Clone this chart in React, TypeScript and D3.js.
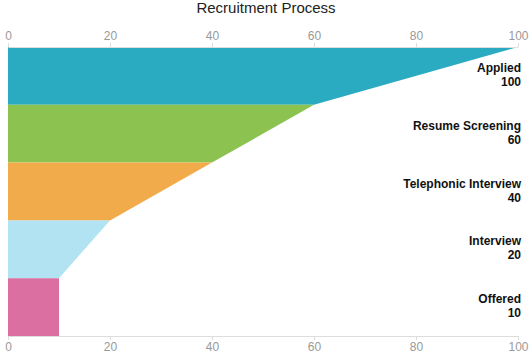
import { useEffect, useRef } from 'react';
import * as d3 from 'd3';

const stages = ['Applied', 'Resume Screening', 'Telephonic Interview', 'Interview', 'Offered'];
const counts = [100, 60, 40, 20, 10];
const colors = ['#2aabc2', '#8bc250', '#f2ab4b', '#b1e3f3', '#dc6fa1'];
const ticks = [0, 20, 40, 60, 80, 100];

const width = 532;
const height = 354;
const margin = { top: 47, right: 14, bottom: 18, left: 8 };

export default function App() {
  const svgRef = useRef<SVGSVGElement>(null);

  useEffect(() => {
    if (!svgRef.current) return;
    const svg = d3.select(svgRef.current);
    svg.selectAll('*').remove();

    const chartWidth = width - margin.left - margin.right;
    const chartHeight = height - margin.top - margin.bottom;

    const x = d3.scaleLinear().domain([0, 100]).range([0, chartWidth]);
    const y = d3.scaleBand().domain(stages).range([0, chartHeight]).padding(0);

    // Title
    svg
      .append('text')
      .attr('x', width / 2)
      .attr('y', 13)
      .attr('text-anchor', 'middle')
      .attr('font-family', 'Arial, "Liberation Sans", sans-serif')
      .attr('font-size', '15px')
      .attr('fill', '#222')
      .text('Recruitment Process');

    const g = svg.append('g').attr('transform', `translate(${margin.left},${margin.top})`);

    // Funnel segments
    const data = stages.map((s, i) => ({
      stage: s,
      value: counts[i],
      next: i < counts.length - 1 ? counts[i + 1] : counts[i],
      color: colors[i],
    }));

    g.selectAll('path.seg')
      .data(data)
      .enter()
      .append('path')
      .attr('class', 'seg')
      .attr('d', (d) => {
        const y0 = y(d.stage)!;
        const y1 = y0 + y.bandwidth();
        return `M${x(0)},${y0}L${x(d.value)},${y0}L${x(d.next)},${y1}L${x(0)},${y1}Z`;
      })
      .attr('fill', (d) => d.color);

    // Axes
    const styleAxis = (sel: d3.Selection<SVGGElement, unknown, null, undefined>) => {
      sel.select('.domain').attr('stroke', '#ddd');
      sel.selectAll('.tick line').attr('stroke', '#ddd');
      sel
        .selectAll('.tick text')
        .attr('fill', '#999')
        .attr('font-size', '12px')
        .attr('font-family', 'Arial, "Liberation Sans", sans-serif');
    };

    const top = g
      .append('g')
      .call(d3.axisTop(x).tickValues(ticks).tickSize(4).tickSizeOuter(0).tickPadding(3));
    styleAxis(top as any);

    const bottom = g
      .append('g')
      .attr('transform', `translate(0,${chartHeight})`)
      .call(d3.axisBottom(x).tickValues(ticks).tickSize(4).tickSizeOuter(0).tickPadding(2));
    styleAxis(bottom as any);

    // Labels
    const labels = g
      .selectAll('text.lbl')
      .data(data)
      .enter()
      .append('text')
      .attr('class', 'lbl')
      .attr('text-anchor', 'end')
      .attr('font-family', 'Arial, "Liberation Sans", sans-serif')
      .attr('font-size', '12px')
      .attr('font-weight', 'bold')
      .attr('fill', '#111');

    labels
      .append('tspan')
      .attr('x', chartWidth + 3)
      .attr('y', (d) => y(d.stage)! + y.bandwidth() / 2 - 4)
      .text((d) => d.stage);
    labels
      .append('tspan')
      .attr('x', chartWidth + 3)
      .attr('y', (d) => y(d.stage)! + y.bandwidth() / 2 + 10)
      .text((d) => d.value);
  }, []);

  return (
    <svg
      ref={svgRef}
      width={width}
      height={height}
      style={{ position: 'absolute', left: 0, top: 0, background: '#fff' }}
    />
  );
}
